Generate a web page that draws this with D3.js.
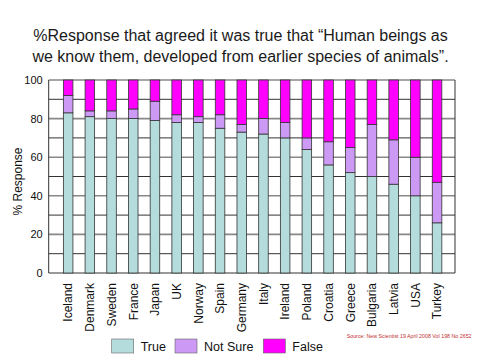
<!DOCTYPE html>
<html><head><meta charset="utf-8">
<script src="https://cdn.jsdelivr.net/npm/d3@7"></script>
<style>body{margin:0;background:#fff;} text{font-family:"Liberation Sans",Arial,sans-serif;}</style>
</head><body>
<svg id="chart" width="483" height="362"></svg>
<script>
const countries = ["Iceland","Denmark","Sweden","France","Japan","UK","Norway","Spain","Germany","Italy","Ireland","Poland","Croatia","Greece","Bulgaria","Latvia","USA","Turkey"];
const trueVals    = [83, 81, 80, 80, 79, 78, 78, 75, 73, 72, 70, 64, 56, 52, 50, 46, 40, 26];
const notSureVals = [ 9,  3,  4,  5, 10,  4,  3,  7,  4,  8,  8,  6, 12, 13, 27, 23, 20, 21];
const falseVals   = [ 8, 16, 16, 15, 11, 18, 19, 18, 23, 20, 22, 30, 32, 35, 23, 31, 40, 53];
const seriesNames = ["True","Not Sure","False"];
const colors = ["#b4dcdc","#cc99f5","#ff00ff"];
const yTicks = [0,20,40,60,80,100];
const titleLines = ["%Response that agreed it was true that \u201cHuman beings as","we know them, developed from earlier species of animals\u201d."];
const sourceText = "Source: New Scientist 19 April 2008 Vol 198 No 2652";

const svg = d3.select("#chart");
const plotL = 48.7, plotR = 455, plotT = 80, plotB = 273;

const rows = countries.map((c,i)=>({country:c, True:trueVals[i], "Not Sure":notSureVals[i], False:falseVals[i]}));
const stacked = d3.stack().keys(seriesNames)(rows);

const x = d3.scaleBand().domain(countries).range([57.3, 447.9]).padding(0);
const barW = x.bandwidth()*0.44;
const y = d3.scaleLinear().domain([0,100]).range([plotB, plotT]);

// title
svg.append("g").selectAll("text").data(titleLines).join("text")
  .attr("x", 240.5).attr("y",(d,i)=>40.8+i*21.5)
  .attr("text-anchor","middle").attr("font-size","16px").attr("fill","#1a1a1a")
  .text(d=>d);

// horizontal gridlines
const minor = d3.range(10,101,20);
svg.append("g").selectAll("line.minor").data(minor).join("line")
  .attr("x1",plotL).attr("x2",plotR).attr("y1",d=>y(d)).attr("y2",d=>y(d))
  .attr("stroke","#333").attr("stroke-width",1);
svg.append("g").selectAll("line.major").data(yTicks).join("line")
  .attr("x1",plotL).attr("x2",plotR).attr("y1",d=>y(d)).attr("y2",d=>y(d))
  .attr("stroke",d=>d===0?"#333":"#888").attr("stroke-width",d=>d===0?1:1.6);
// frame sides
svg.append("line").attr("x1",plotL).attr("x2",plotL).attr("y1",plotT).attr("y2",plotB).attr("stroke","#333");
svg.append("line").attr("x1",plotR).attr("x2",plotR).attr("y1",plotT).attr("y2",plotB).attr("stroke","#333");

// y axis labels
const yAxis = d3.axisLeft(y).tickValues(yTicks).tickSize(0).tickPadding(6);
const ga = svg.append("g").attr("transform",`translate(${plotL},0)`).call(yAxis);
ga.select(".domain").remove();
ga.selectAll("text").attr("font-size","11px").attr("fill","#111").style("font-family",'"Liberation Sans",Arial,sans-serif');

svg.append("text").attr("transform","translate(22,181.5) rotate(-90)")
  .attr("text-anchor","middle").attr("font-size","12px").attr("fill","#111").text("% Response");

// bars
svg.append("g").selectAll("g").data(stacked).join("g")
  .attr("fill",(d,i)=>colors[i])
  .selectAll("rect").data(d=>d).join("rect")
  .attr("x",d=>x(d.data.country)+x.bandwidth()/2-barW/2)
  .attr("width",barW)
  .attr("y",d=>y(d[1])).attr("height",d=>y(d[0])-y(d[1]))
  .attr("stroke","#333").attr("stroke-width",0.8);

// x labels
svg.append("g").selectAll("text").data(countries).join("text")
  .attr("transform",d=>`translate(${x(d)+x.bandwidth()/2},283) rotate(-90)`)
  .attr("text-anchor","end").attr("dy","0.36em").attr("font-size","12px").attr("fill","#111")
  .text(d=>d);

// legend
const legX = [111.7, 175, 263.3];
const lg = svg.append("g").selectAll("g").data(seriesNames).join("g")
  .attr("transform",(d,i)=>`translate(${legX[i]},339)`);
lg.append("rect").attr("width",22).attr("height",14).attr("fill",(d,i)=>colors[i]).attr("stroke","#666").attr("stroke-width",0.6);
lg.append("text").attr("x",29).attr("y",12).attr("font-size","12.5px").attr("fill","#111").text(d=>d);

// source
svg.append("text").attr("x",346.7).attr("y",338.3).attr("font-size","5.3px").attr("fill","#c03030").text(sourceText);
</script>
</body></html>
